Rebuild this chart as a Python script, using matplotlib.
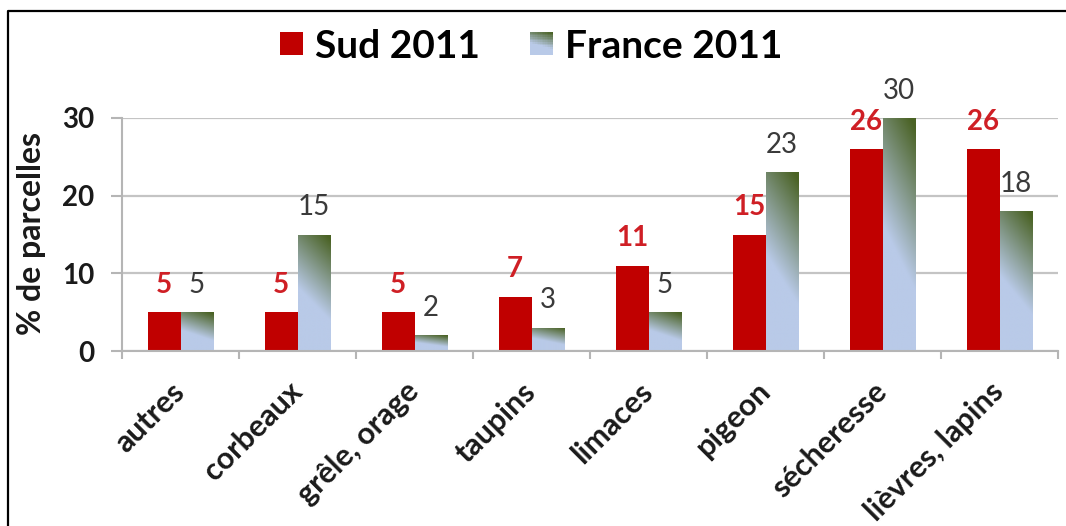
import numpy as np
import matplotlib
matplotlib.use("Agg")
import matplotlib.pyplot as plt
from matplotlib.patches import Rectangle
from matplotlib.lines import Line2D
from matplotlib.legend_handler import HandlerBase

plt.rcParams['font.family'] = ['Lato', 'DejaVu Sans']

categories = ["autres", "corbeaux", "grêle, orage", "taupins", "limaces",
              "pigeon", "sécheresse", "lièvres, lapins"]
sud_2011 = [5, 5, 5, 7, 11, 15, 26, 26]
france_2011 = [5, 15, 2, 3, 5, 23, 30, 18]
series_names = ["Sud 2011", "France 2011"]
y_ticks = [0, 10, 20, 30]

RED = "#c00000"
RED_TEXT = "#cf1f25"
BLUE = np.array([0xb9, 0xca, 0xe8]) / 255
GREEN = np.array([0x4a, 0x62, 0x24]) / 255


def gradient_rgb(u, v):
    """Diagonal blend: light blue at the bottom, olive green toward the top right."""
    t = np.clip(((0.78 * v + 0.22 * u) - 0.42) / 0.55, 0, 1)
    return BLUE[None, None, :] * (1 - t[..., None]) + GREEN[None, None, :] * t[..., None]


W, H = 1066, 526
fig = plt.figure(figsize=(W / 100, H / 100), dpi=100)
ax = fig.add_axes([122 / W, 1 - 351 / H, (1058 - 122) / W, (351 - 118) / H])

x = np.arange(len(categories))
bw = 0.28
sud_bars = ax.bar(x - bw / 2, sud_2011, width=bw, color=RED, zorder=2)
fr_bars = ax.bar(x + bw / 2, france_2011, width=bw, facecolor="none",
                 edgecolor="none", zorder=2)

uu, vv = np.meshgrid(np.linspace(0, 1, 40), np.linspace(0, 1, 120))
grad = gradient_rgb(uu, vv)
for p in fr_bars:
    x0, y0 = p.get_x(), p.get_y()
    im = ax.imshow(grad, extent=[x0, x0 + p.get_width(), y0, y0 + p.get_height()],
                   origin="lower", aspect="auto", zorder=2, interpolation="bilinear")
    im.set_clip_path(p)

# value labels
for p, v in zip(sud_bars, sud_2011):
    ax.annotate(f"{v}", (p.get_x() + p.get_width() / 2, p.get_height()),
                xytext=(0, 14), textcoords="offset points", ha="center",
                va="baseline", color=RED_TEXT, fontsize=20, fontweight="bold",
                annotation_clip=False)
for p, v in zip(fr_bars, france_2011):
    ax.annotate(f"{v}", (p.get_x() + p.get_width() / 2, p.get_height()),
                xytext=(0, 14), textcoords="offset points", ha="center",
                va="baseline", color="#3a3a3a", fontsize=20,
                annotation_clip=False)

ax.set_xlim(-0.5, len(categories) - 0.5)
ax.set_ylim(0, 30)
ax.set_yticks(y_ticks)
ax.set_yticklabels([str(t) for t in y_ticks], fontsize=20, fontweight="bold",
                   color="#1a1a1a")
ax.tick_params(axis="y", length=8, width=1.5, color="#b5b5b5", pad=12)

ax.set_xticks(x)
ax.set_xticklabels(categories, rotation=45, ha="right", va="center",
                   rotation_mode="anchor", fontsize=22, fontweight="bold",
                   color="#1a1a1a")
ax.tick_params(axis="x", which="major", length=0, pad=26)
ax.set_xticks(np.arange(len(categories) + 1) - 0.5, minor=True)
ax.tick_params(axis="x", which="minor", length=6, width=1.5, color="#b5b5b5")

ax.yaxis.grid(True, color="#c4c4c4", linewidth=1.6)
ax.set_axisbelow(True)
for s in ("top", "right"):
    ax.spines[s].set_visible(False)
for s in ("left", "bottom"):
    ax.spines[s].set_color("#b5b5b5")
    ax.spines[s].set_linewidth(1.5)

fig.text(32 / W, 1 - 233 / H, "% de parcelles", rotation=90, ha="center",
         va="center", fontsize=23, fontweight="bold", color="#1a1a1a")


class GradientHandler(HandlerBase):
    def create_artists(self, legend, orig_handle, xdescent, ydescent, width,
                       height, fontsize, trans):
        n = 14
        size = min(width, height)
        x0 = -xdescent
        y0 = -ydescent + (height - size) / 2
        artists = []
        cols = gradient_rgb(*np.meshgrid((np.arange(n) + 0.5) / n,
                                         (np.arange(n) + 0.5) / n))
        for i in range(n):
            for j in range(n):
                r = Rectangle((x0 + j * size / n, y0 + i * size / n),
                              size / n * 1.05, size / n * 1.05,
                              facecolor=cols[i, j], edgecolor="none",
                              transform=trans)
                artists.append(r)
        return artists


class SquareHandler(HandlerBase):
    def create_artists(self, legend, orig_handle, xdescent, ydescent, width,
                       height, fontsize, trans):
        size = min(width, height)
        return [Rectangle((-xdescent, -ydescent + (height - size) / 2), size, size,
                          facecolor=RED, edgecolor="none", transform=trans)]


h_sud = Rectangle((0, 0), 1, 1)
h_fr = Line2D([], [])
fig.legend([h_sud, h_fr], series_names, loc="center",
           bbox_to_anchor=(531 / W, 1 - 46 / H), ncol=2, frameon=False,
           prop={"size": 28, "weight": "bold"}, handlelength=0.6,
           handleheight=0.6, handletextpad=0.3, columnspacing=1.3,
           handler_map={h_sud: SquareHandler(), h_fr: GradientHandler()})

# outer frame (left and top edges)
fig.add_artist(Line2D([8 / W, 8 / W, 1.0], [0.0, 1 - 11 / H, 1 - 11 / H],
                      transform=fig.transFigure, color="black", linewidth=1.6))

fig.savefig("out.png", dpi=100)
